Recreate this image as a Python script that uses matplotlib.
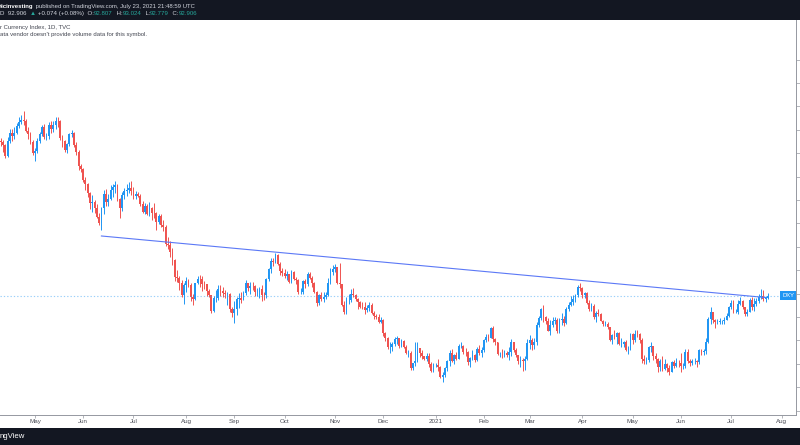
"""
DXY daily candles (TradingView snapshot style)
"""

import numpy as np
import pandas as pd
import matplotlib
matplotlib.use("Agg")
import matplotlib.pyplot as plt
from matplotlib.patches import Rectangle
import matplotlib.transforms as mtransforms

#--------------------------------------------------------------
# data: daily closes / highs / lows, 2020-04-09 .. 2021-07-23 (business days)

start_date = "2020-04-09"
first_open = 99.60

closes = [
    # Apr 2020
    99.53, 99.48, 99.33, 98.87, 99.52, 99.88, 99.72, 99.86, 100.18, 100.35, 100.43, 100.37, 99.96, 99.83, 99.47, 99.02,
    # May
    99.08, 99.51, 99.82, 100.10, 99.70, 99.74, 100.22, 100.02, 100.21, 100.38, 100.37, 99.64, 99.53, 99.13, 99.37,
    99.81, 99.87, 99.36, 99.03, 98.44, 98.34,
    # Jun
    97.84, 97.67, 97.28, 96.86, 96.93, 96.66, 96.29, 96.03, 96.64, 97.26, 96.93, 97.06, 97.43, 97.54, 97.63,
    97.03, 96.64, 97.21, 97.39, 97.43, 97.50, 97.39,
    # Jul
    97.17, 97.25, 97.19, 96.84, 96.48, 96.74, 96.40, 96.64, 96.46, 96.44, 96.06, 96.31, 95.94, 95.83, 95.10,
    95.07, 94.77, 94.44, 93.69, 93.68, 93.44, 92.94, 93.35,
    # Aug
    93.53, 93.38, 92.87, 92.78, 93.43, 93.63, 93.62, 93.41, 93.39, 93.09, 92.95, 92.26, 92.80, 92.80, 93.20,
    93.12, 93.01, 92.99, 92.99, 92.36, 92.15,
    # Sep
    92.34, 92.75, 92.79, 92.73, 93.04, 93.45, 93.24, 93.34, 93.33, 93.05, 93.06, 93.18, 92.95, 92.93, 93.61,
    94.04, 94.41, 94.34, 94.64, 94.26, 93.98, 93.89,
    # Oct
    93.75, 93.84, 93.50, 93.93, 93.61, 93.60, 93.06, 93.06, 93.53, 93.41, 93.82, 93.68, 93.45, 93.07, 92.61,
    92.95, 92.77, 92.84, 92.94, 93.43, 93.91, 94.04,
    # Nov
    94.14, 93.47, 93.39, 92.52, 92.23, 92.73, 92.74, 92.99, 92.95, 92.75, 92.62, 92.43, 92.42, 92.28, 92.39,
    92.51, 92.17, 92.03, 92.00, 91.79, 91.87,
    # Dec
    91.32, 91.11, 90.70, 90.70, 90.83, 91.07, 91.09, 90.76, 90.98, 90.73, 90.47, 90.47, 89.83, 90.02, 90.11,
    90.67, 90.44, 90.33, 90.21, 90.35, 89.98, 89.67, 89.94,
    # Jan 2021
    89.94, 89.88, 89.43, 89.53, 89.83, 90.10, 90.47, 90.12, 90.37, 90.22, 90.77, 90.77, 90.52, 90.50, 90.09,
    90.23, 90.37, 90.17, 90.63, 90.46, 90.58,
    # Feb
    91.02, 91.16, 91.12, 91.54, 91.04, 90.94, 90.42, 90.43, 90.42, 90.48, 90.36, 90.50, 90.93, 90.59, 90.36,
    90.12, 90.16, 90.12, 90.21, 90.88,
    # Mar
    91.01, 90.79, 90.94, 91.64, 91.96, 92.34, 91.98, 91.82, 91.42, 91.67, 91.81, 91.88, 91.42, 91.88, 91.91,
    91.75, 92.35, 92.51, 92.64, 92.77, 92.94, 93.30, 93.23,
    # Apr
    92.93, 93.02, 92.60, 92.33, 92.45, 91.98, 92.16, 92.14, 91.84, 91.68, 91.70, 91.56, 91.03, 91.24, 91.14,
    91.30, 90.85, 90.86, 90.91, 90.57, 90.58, 91.28,
    # May
    91.00, 91.28, 91.27, 91.03, 90.22, 90.10, 90.17, 90.70, 90.75, 90.32, 90.21, 89.86, 90.13, 89.78, 89.98,
    89.80, 89.65, 90.07, 89.92, 90.03, 90.02,
    # Jun
    89.90, 89.92, 90.52, 90.13, 90.03, 90.10, 90.10, 90.08, 90.58, 90.52, 90.55, 90.91, 91.92, 92.23, 91.89,
    91.77, 91.80, 91.82, 91.84, 91.89, 92.06, 92.44,
    # Jul
    92.58, 92.23, 92.23, 92.54, 92.67, 92.42, 92.12, 92.23, 92.74, 92.42, 92.57, 92.69, 92.87, 92.91, 92.77,
    92.83, 92.906,
]

highs = [
    99.72, 99.65, 99.55, 99.38, 99.67, 100.04, 100.03, 100.10, 100.28, 100.53, 100.65, 100.82, 100.45, 100.12, 99.90, 99.55,
    99.22, 99.65, 99.92, 100.19, 100.26, 99.87, 100.35, 100.36, 100.36, 100.55, 100.55, 100.42, 99.78, 99.58, 99.44,
    99.88, 99.97, 99.92, 99.46, 99.15, 98.55,
    98.35, 97.97, 97.72, 97.34, 97.22, 96.98, 96.82, 96.46, 96.72, 97.44, 97.46, 97.24, 97.63, 97.67, 97.82,
    97.68, 97.10, 97.33, 97.53, 97.70, 97.78, 97.80,
    97.57, 97.40, 97.34, 97.25, 96.96, 96.87, 96.81, 96.92, 96.70, 96.89, 96.50, 96.42, 96.40, 96.14, 95.91,
    95.43, 95.25, 94.95, 94.46, 94.00, 93.77, 93.58, 93.45,
    93.69, 93.62, 93.45, 92.98, 93.47, 93.77, 93.80, 93.75, 93.55, 93.40, 93.19, 92.95, 92.90, 93.15, 93.35,
    93.38, 93.26, 93.16, 93.07, 93.02, 92.41,
    92.68, 92.86, 93.03, 93.07, 93.13, 93.59, 93.46, 93.48, 93.48, 93.37, 93.22, 93.30, 93.38, 93.06, 93.68,
    94.10, 94.52, 94.54, 94.74, 94.68, 94.36, 94.08,
    94.04, 93.98, 93.83, 94.01, 93.95, 93.70, 93.63, 93.25, 93.60, 93.63, 93.91, 93.91, 93.75, 93.48, 93.13,
    93.00, 93.08, 93.07, 93.07, 93.65, 94.10, 94.22,
    94.28, 94.15, 94.30, 93.36, 92.69, 92.86, 92.96, 93.20, 93.22, 92.97, 92.81, 92.67, 92.63, 92.65, 92.49,
    92.63, 92.60, 92.24, 92.12, 92.12, 91.99,
    91.93, 91.35, 91.15, 90.95, 90.93, 91.16, 91.20, 91.11, 91.07, 91.03, 90.82, 90.60, 90.53, 90.03, 90.94,
    90.94, 90.69, 90.58, 90.35, 90.44, 90.46, 90.06, 90.02,
    90.02, 90.20, 89.92, 89.65, 89.88, 90.16, 90.57, 90.63, 90.41, 90.50, 90.83, 90.94, 90.80, 90.67, 90.56,
    90.28, 90.58, 90.43, 90.70, 90.80, 90.70,
    91.05, 91.26, 91.28, 91.57, 91.60, 91.10, 90.95, 90.50, 90.62, 90.60, 90.56, 90.71, 91.05, 90.94, 90.68,
    90.38, 90.31, 90.23, 90.33, 91.06,
    91.23, 91.11, 91.08, 91.77, 92.06, 92.40, 92.50, 92.05, 91.94, 91.88, 91.99, 92.00, 91.96, 91.95, 92.15,
    92.03, 92.42, 92.62, 92.90, 92.92, 92.98, 93.36, 93.44,
    93.30, 93.08, 93.05, 92.73, 92.60, 92.55, 92.24, 92.34, 92.17, 91.88, 91.84, 91.79, 91.56, 91.27, 91.43,
    91.37, 91.36, 91.11, 90.98, 91.00, 90.77, 91.31,
    91.30, 91.43, 91.43, 91.33, 91.11, 90.36, 90.30, 90.77, 90.92, 90.78, 90.44, 90.24, 90.21, 90.33, 90.22,
    90.05, 89.93, 90.11, 90.17, 90.26, 90.17,
    90.44, 90.05, 90.62, 90.63, 90.20, 90.20, 90.23, 90.16, 90.62, 90.64, 90.65, 91.11, 91.98, 92.41, 92.23,
    91.90, 91.90, 91.97, 91.87, 91.98, 92.16, 92.46,
    92.74, 92.72, 92.33, 92.74, 92.84, 92.72, 92.44, 92.36, 92.79, 92.85, 92.81, 92.83, 92.99, 93.19, 93.15,
    92.88, 93.024,
]

lows = [
    99.30, 99.30, 99.05, 98.81, 98.85, 99.42, 99.52, 99.60, 99.82, 100.08, 100.25, 100.22, 99.90, 99.60, 99.41, 98.92,
    98.65, 99.00, 99.42, 99.72, 99.62, 99.57, 99.62, 99.85, 99.92, 100.05, 100.10, 99.58, 99.28, 99.05, 99.02,
    99.30, 99.70, 99.25, 98.93, 98.30, 98.18,
    97.78, 97.42, 97.13, 96.62, 96.48, 96.43, 96.25, 95.94, 95.72, 96.41, 96.74, 96.75, 96.98, 97.12, 97.29,
    96.96, 96.22, 96.53, 97.02, 97.19, 97.29, 97.20,
    97.03, 97.02, 97.12, 96.75, 96.43, 96.38, 96.36, 96.30, 96.14, 96.25, 95.73, 95.97, 95.86, 95.66, 95.02,
    94.90, 94.58, 94.20, 93.55, 93.48, 93.17, 92.85, 92.55,
    93.06, 93.27, 92.67, 92.53, 92.71, 93.39, 93.30, 93.12, 93.18, 92.91, 92.86, 92.19, 92.21, 92.64, 92.74,
    92.90, 92.87, 92.80, 92.52, 92.22, 91.99,
    91.75, 92.10, 92.38, 92.59, 92.71, 92.93, 93.12, 93.00, 93.17, 92.89, 92.90, 92.82, 92.70, 92.71, 92.83,
    93.55, 93.89, 94.16, 94.31, 94.21, 93.80, 93.73,
    93.66, 93.58, 93.46, 93.43, 93.56, 93.39, 92.99, 92.96, 92.99, 93.23, 93.34, 93.61, 93.30, 93.02, 92.47,
    92.50, 92.69, 92.63, 92.78, 92.89, 93.40, 93.79,
    93.90, 93.41, 93.25, 92.46, 92.13, 92.13, 92.56, 92.66, 92.87, 92.68, 92.34, 92.38, 92.36, 92.13, 92.21,
    92.26, 92.11, 91.92, 91.91, 91.75, 91.74,
    91.19, 90.96, 90.61, 90.47, 90.53, 90.78, 90.83, 90.66, 90.72, 90.66, 90.42, 90.28, 89.72, 89.73, 89.90,
    90.08, 90.29, 90.19, 90.14, 90.12, 89.85, 89.63, 89.66,
    89.84, 89.69, 89.41, 89.21, 89.44, 89.70, 89.92, 90.06, 89.99, 90.14, 90.19, 90.68, 90.42, 90.32, 89.96,
    89.84, 90.15, 90.06, 90.10, 90.37, 90.30,
    90.51, 90.92, 90.97, 91.08, 90.91, 90.82, 90.39, 90.28, 90.25, 90.30, 90.29, 90.16, 90.33, 90.50, 90.28,
    89.98, 89.86, 89.68, 89.73, 90.18,
    90.64, 90.60, 90.63, 90.80, 91.58, 91.86, 91.80, 91.68, 91.38, 91.21, 91.55, 91.70, 91.30, 91.30, 91.66,
    91.60, 91.72, 92.25, 92.45, 92.52, 92.63, 92.85, 93.10,
    92.83, 92.82, 92.54, 92.27, 92.26, 91.93, 91.80, 92.03, 91.82, 91.61, 91.60, 91.49, 90.98, 90.84, 91.05,
    90.86, 90.81, 90.71, 90.72, 90.55, 90.42, 90.58,
    90.84, 90.94, 91.13, 90.87, 90.03, 89.98, 89.99, 90.09, 90.51, 90.18, 90.05, 89.65, 89.69, 89.71, 89.72,
    89.65, 89.53, 89.65, 89.82, 89.85, 89.88,
    89.66, 89.77, 89.83, 90.05, 89.90, 89.96, 89.98, 89.85, 90.00, 90.36, 90.36, 90.40, 90.87, 91.70, 91.75,
    91.51, 91.68, 91.70, 91.69, 91.72, 91.85, 92.00,
    92.35, 92.15, 92.15, 92.13, 92.49, 92.34, 92.06, 92.04, 92.20, 92.30, 92.27, 92.47, 92.59, 92.75, 92.68,
    92.66, 92.779,
]

last_price = 92.906
trend_dates = ["2020-06-11", "2021-07-22"]
trend_prices = [95.46, 92.83]
price_ticks = list(range(88, 104))

W, H = 800, 445
UP, DOWN = "#2196f3", "#ef5350"
DARK = "#131722"
TEAL = "#26a69a"
FONT = ["Liberation Sans", "DejaVu Sans"]

#--------------------------------------------------------------

dates = pd.bdate_range(start_date, periods=len(closes))
axis_dates = pd.bdate_range(start_date, "2021-08-31")
idx = np.arange(len(closes))
close = np.array(closes)
opens = np.array([first_open] + closes[:-1])
up = close >= opens

fig = plt.figure(figsize=(W / 100, H / 100), dpi=100)
fig.patch.set_facecolor("white")
ax = fig.add_axes([0, (H - 415) / H, 796 / W, 395 / H])
ax.set_facecolor("white")

# wicks and bodies
ax.vlines(idx, lows, highs, colors=np.where(up, UP, DOWN), linewidth=0.7)
ax.bar(idx, np.abs(close - opens), bottom=np.minimum(close, opens), width=0.78,
       color=np.where(up, UP, DOWN), linewidth=0)

# trend line
t_idx = [dates.get_loc(pd.Timestamp(d)) for d in trend_dates]
ax.plot(t_idx, trend_prices, color="#5b78f6", linewidth=0.8)

# last price line and label
ax.axhline(last_price, color="#2196f3", alpha=0.45, linewidth=0.8, linestyle=(0, (1.2, 1.8)))
trans = mtransforms.blended_transform_factory(ax.transAxes, ax.transData)
ax.text(0.9975, last_price, "DXY", transform=trans, ha="right", va="center",
        fontsize=4.2, color="white", family=FONT,
        bbox=dict(boxstyle="square,pad=0.35", facecolor="#2196f3", edgecolor="none"))

ax.set_xlim(0.72, 348.3)
ax.set_ylim(87.81, 104.69)

# month ticks
month_start = [i for i in range(1, len(axis_dates)) if axis_dates[i].month != axis_dates[i - 1].month]
labels = [("2021" if axis_dates[i].month == 1 else axis_dates[i].strftime("%b")) for i in month_start]
ax.set_xticks(month_start)
ax.set_xticklabels(labels, family=FONT)
ax.set_yticks(price_ticks)
ax.yaxis.tick_right()
ax.set_yticklabels([])

for side in ("top", "left"):
    ax.spines[side].set_visible(False)
for side in ("right", "bottom"):
    ax.spines[side].set_color("#9598a1")
    ax.spines[side].set_linewidth(0.7)
ax.tick_params(axis="x", length=2, width=0.5, color="#9598a1", labelsize=4.5,
               labelcolor="#4a4d57", pad=1.2)
ax.tick_params(axis="y", length=3, width=0.5, color="#9598a1")

# header and footer bars
fig.patches.append(Rectangle((0, 1 - 19.5 / H), 1, 19.5 / H, transform=fig.transFigure,
                             facecolor=DARK, edgecolor="none", zorder=0))
fig.patches.append(Rectangle((0, 0), 1, 17 / H, transform=fig.transFigure,
                             facecolor=DARK, edgecolor="none", zorder=0))


def text_run(x_px, y_px, pieces, size):
    """ place coloured pieces of text one after another """
    renderer = fig.canvas.get_renderer()
    x = x_px
    for s, color, weight in pieces:
        t = fig.text(x / W, 1 - y_px / H, s, color=color, fontsize=size,
                     fontweight=weight, family=FONT, ha="left", va="center")
        x += t.get_window_extent(renderer).width


WHITE = "#d1d4dc"
text_run(0, 6.2, [("ticinvesting", "white", "bold"),
                  (" published on TradingView.com, July 23, 2021 21:48:59 UTC", WHITE, "normal")], 4.3)
text_run(0, 13.4, [("D  92.906  ", WHITE, "normal"), ("▲", TEAL, "normal"),
                   (" +0.074 (+0.08%)  O:", WHITE, "normal"), ("92.807", TEAL, "normal"),
                   ("  H:", WHITE, "normal"), ("93.024", TEAL, "normal"),
                   ("  L:", WHITE, "normal"), ("92.779", TEAL, "normal"),
                   ("  C:", WHITE, "normal"), ("92.906", TEAL, "normal")], 4.4)
text_run(0, 27.7, [("r Currency Index, 1D, TVC", "#434651", "normal")], 4.3)
text_run(0, 34.6, [("ata vendor doesn't provide volume data for this symbol.", "#434651", "normal")], 4.3)
text_run(0, 437, [("ngView", "white", "normal")], 5.6)

fig.savefig("out.png", dpi=100, facecolor="white")
